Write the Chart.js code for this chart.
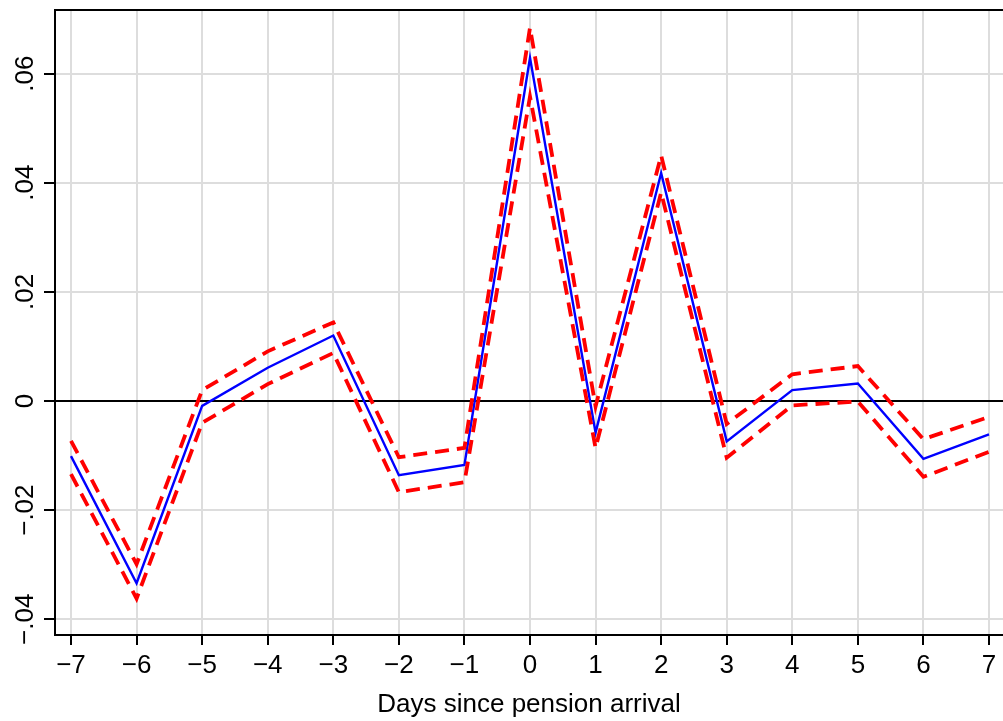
<!DOCTYPE html>
<html lang="en">
<head>
  <meta charset="UTF-8" />
  <title>Days since pension arrival</title>
  <script src="https://cdn.jsdelivr.net/npm/chart.js"></script>
  <style>
    html, body { margin: 0; padding: 0; background: #fff; }
    .wrap { width: 1003px; height: 721px; position: relative; }
  </style>
</head>
<body>
  <div class="wrap"><canvas id="eventChart"></canvas></div>

  <script>
    // Event-study estimates by day relative to pension arrival
    const days = [-7, -6, -5, -4, -3, -2, -1, 0, 1, 2, 3, 4, 5, 6, 7];
    const coef = [-0.0101, -0.0334, -0.0009, 0.0061, 0.0120, -0.0136, -0.0117, 0.0629, -0.0058, 0.0418, -0.0074, 0.0020, 0.0032, -0.0106, -0.0061];
    const upper = [-0.0073, -0.0299, 0.0020, 0.0091, 0.0144, -0.0103, -0.0086, 0.0684, -0.0010, 0.0450, -0.0042, 0.0049, 0.0064, -0.0070, -0.0029];
    const lower = [-0.0134, -0.0362, -0.0040, 0.0031, 0.0088, -0.0167, -0.0149, 0.0558, -0.0086, 0.0382, -0.0104, -0.0008, -0.0001, -0.0139, -0.0093];
    const yTicks = [-0.04, -0.02, 0, 0.02, 0.04, 0.06];
    const yTickLabels = ['\u2212.04', '\u2212.02', '0', '.02', '.04', '.06'];

    const FONT = 'Liberation Sans, Arial, Helvetica, sans-serif';
    const GRID = '#dddddd';

    const pts = arr => days.map((d, i) => ({ x: d, y: arr[i] }));
    const fmtDay = v => (v < 0 ? '\u2212' + Math.abs(v) : String(v));

    // rotated y labels + top frame line
    const frame = {
      id: 'frame',
      afterDraw(chart) {
        const { ctx, chartArea, scales } = chart;
        ctx.save();
        ctx.strokeStyle = '#000';
        ctx.lineWidth = 2;
        ctx.beginPath();
        ctx.moveTo(chartArea.left - 1, chartArea.top);
        ctx.lineTo(chartArea.right, chartArea.top);
        ctx.stroke();

        ctx.fillStyle = '#000';
        ctx.font = '26px ' + FONT;
        ctx.textAlign = 'center';
        ctx.textBaseline = 'alphabetic';
        yTicks.forEach((v, i) => {
          const y = scales.y.getPixelForValue(v);
          ctx.save();
          ctx.translate(33, y);
          ctx.rotate(-Math.PI / 2);
          ctx.fillText(yTickLabels[i], 0, 0);
          ctx.restore();
        });
        ctx.restore();
      }
    };

    const ctx = document.getElementById('eventChart').getContext('2d');

    new Chart(ctx, {
      type: 'line',
      data: {
        datasets: [
          {
            label: 'upper',
            data: pts(upper),
            borderColor: '#ff0000',
            borderWidth: 3.8,
            borderDash: [14, 8],
            borderJoinStyle: 'miter',
            pointRadius: 0,
            tension: 0,
            fill: false,
            order: 0
          },
          {
            label: 'lower',
            data: pts(lower),
            borderColor: '#ff0000',
            borderWidth: 3.8,
            borderDash: [14, 8],
            borderJoinStyle: 'miter',
            pointRadius: 0,
            tension: 0,
            fill: false,
            order: 0
          },
          {
            label: 'coef',
            data: pts(coef),
            borderColor: '#0000ff',
            borderWidth: 2.4,
            borderJoinStyle: 'miter',
            pointRadius: 0,
            tension: 0,
            fill: false,
            order: 1
          }
        ]
      },
      options: {
        responsive: true,
        maintainAspectRatio: false,
        animation: false,
        layout: { padding: { top: 10, right: 0, left: 0, bottom: 0 } },
        plugins: {
          legend: { display: false },
          tooltip: { enabled: false }
        },
        scales: {
          x: {
            type: 'linear',
            min: -7.244,
            max: 7.2135,
            afterBuildTicks: s => { s.ticks = days.map(v => ({ value: v })); },
            afterFit: s => { s.height = 86; },
            ticks: {
              callback: v => fmtDay(v),
              color: '#000',
              font: { family: FONT, size: 26 },
              padding: 5,
              maxRotation: 0,
              autoSkip: false
            },
            grid: {
              color: GRID,
              lineWidth: 2,
              tickColor: '#000',
              tickWidth: 2,
              tickLength: 10
            },
            border: { display: true, color: '#000', width: 2 },
            title: {
              display: true,
              text: 'Days since pension arrival',
              color: '#000',
              font: { family: FONT, size: 26 },
              padding: { top: 0, bottom: 1 }
            }
          },
          y: {
            min: -0.04288,
            max: 0.07165,
            afterBuildTicks: s => { s.ticks = yTicks.map(v => ({ value: v })); },
            afterFit: s => { s.width = 55; },
            ticks: { display: false },
            grid: {
              color: c => (c.tick && c.tick.value === 0 ? '#000' : GRID),
              lineWidth: 2,
              tickColor: '#000',
              tickWidth: 2,
              tickLength: 11
            },
            border: { display: true, color: '#000', width: 2 }
          }
        }
      },
      plugins: [frame]
    });
  </script>
</body>
</html>
